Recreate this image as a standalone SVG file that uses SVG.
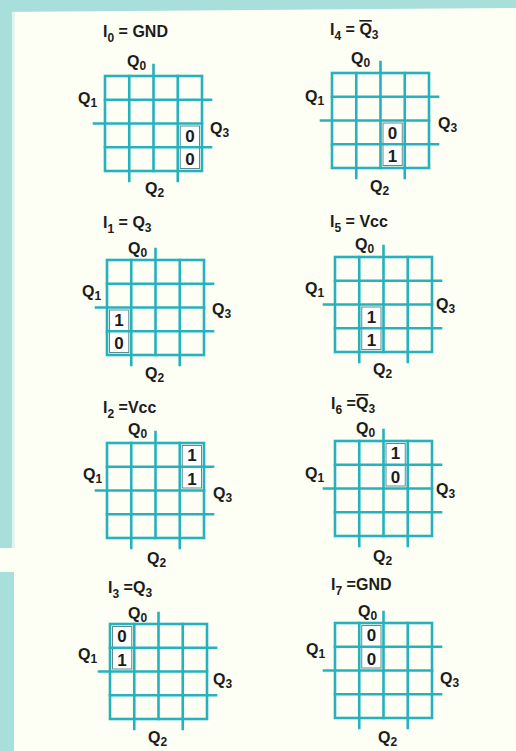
<svg xmlns="http://www.w3.org/2000/svg" xmlns:xlink="http://www.w3.org/1999/xlink" width="516" height="751" viewBox="0 0 516 751">
<style>
.g{fill:none;stroke:#26b2bc;stroke-width:2.6;stroke-linecap:square}
.bx{fill:#ffffff;stroke:#5e8a90;stroke-width:1}
text{font-family:"Liberation Sans","DejaVu Sans",Arial,sans-serif;font-weight:bold;fill:#1c1c1c}
.lb{font-size:16px}
.v{font-size:17px;text-anchor:middle}
.tt{font-size:16px}
.s{font-size:12px}
.ov{text-decoration:overline}
</style>
<defs>
<g id="grid">
<rect class="g" x="0" y="0" width="97" height="95"/>
<path class="g" d="M24.25 0V105 M48.5 -11V95 M72.75 0V105 M0 23.75H106 M-11 47.5H97 M0 71.25H106"/>
</g>
</defs>
<rect x="0" y="0" width="516" height="751" fill="#fdfef4"/>
<path d="M0 0H516V8L0 12Z" fill="#a9dfdb"/>
<rect x="0" y="0" width="12" height="548" fill="#a9dfdb"/>
<rect x="0" y="572" width="14" height="179" fill="#a9dfdb"/>
<rect x="12" y="12" width="3" height="536" fill="#e4f4ef"/>

<g id="map0" transform="translate(105,76)">
<rect class="bx" x="75.25" y="50" width="19.25" height="42.5"/>
<use xlink:href="#grid" href="#grid"/>
<text class="v" x="84.9" y="65.5">0</text>
<text class="v" x="84.9" y="89.2">0</text>
<text class="tt" x="-2" y="-39">I<tspan class="s" dy="5">0</tspan><tspan dy="-5"> = GND</tspan></text>
<text class="lb" x="22" y="-9">Q<tspan class="s" dy="3">0</tspan></text>
<text class="lb" x="-27" y="28">Q<tspan class="s" dy="3">1</tspan></text>
<text class="lb" x="105" y="58">Q<tspan class="s" dy="3">3</tspan></text>
<text class="lb" x="40" y="118">Q<tspan class="s" dy="3">2</tspan></text>
</g>

<g id="map4" transform="translate(332,73)">
<rect class="bx" x="51" y="50" width="19.25" height="42.5"/>
<use xlink:href="#grid" href="#grid"/>
<text class="v" x="60.6" y="65.5">0</text>
<text class="v" x="60.6" y="89.2">1</text>
<text class="tt" x="-2" y="-38">I<tspan class="s" dy="5">4</tspan><tspan dy="-5"> = </tspan><tspan class="ov">Q</tspan><tspan class="s" dy="4">3</tspan></text>
<text class="lb" x="19" y="-9">Q<tspan class="s" dy="3">0</tspan></text>
<text class="lb" x="-27" y="29">Q<tspan class="s" dy="3">1</tspan></text>
<text class="lb" x="106" y="56">Q<tspan class="s" dy="3">3</tspan></text>
<text class="lb" x="38" y="119">Q<tspan class="s" dy="3">2</tspan></text>
</g>

<g id="map1" transform="translate(107,260)">
<rect class="bx" x="2.5" y="50" width="19.25" height="42.5"/>
<use xlink:href="#grid" href="#grid"/>
<text class="v" x="12.1" y="65.5">1</text>
<text class="v" x="12.1" y="89.2">0</text>
<text class="tt" x="-4" y="-32">I<tspan class="s" dy="5">1</tspan><tspan dy="-5"> = Q</tspan><tspan class="s" dy="4">3</tspan></text>
<text class="lb" x="21" y="-6">Q<tspan class="s" dy="3">0</tspan></text>
<text class="lb" x="-25" y="37">Q<tspan class="s" dy="3">1</tspan></text>
<text class="lb" x="105" y="55">Q<tspan class="s" dy="3">3</tspan></text>
<text class="lb" x="38" y="119">Q<tspan class="s" dy="3">2</tspan></text>
</g>

<g id="map5" transform="translate(335,257)">
<rect class="bx" x="26.75" y="50" width="19.25" height="42.5"/>
<use xlink:href="#grid" href="#grid"/>
<text class="v" x="36.4" y="65.5">1</text>
<text class="v" x="36.4" y="89.2">1</text>
<text class="tt" x="-5" y="-30">I<tspan class="s" dy="5">5</tspan><tspan dy="-5"> = Vcc</tspan></text>
<text class="lb" x="20" y="-7">Q<tspan class="s" dy="3">0</tspan></text>
<text class="lb" x="-30" y="37">Q<tspan class="s" dy="3">1</tspan></text>
<text class="lb" x="101" y="53">Q<tspan class="s" dy="3">3</tspan></text>
<text class="lb" x="38" y="118">Q<tspan class="s" dy="3">2</tspan></text>
</g>

<g id="map2" transform="translate(107,443)">
<rect class="bx" x="75.25" y="2.5" width="19.25" height="42.5"/>
<use xlink:href="#grid" href="#grid"/>
<text class="v" x="84.9" y="18">1</text>
<text class="v" x="84.9" y="41.7">1</text>
<text class="tt" x="-4" y="-30">I<tspan class="s" dy="5">2</tspan><tspan dy="-5"> =Vcc</tspan></text>
<text class="lb" x="21" y="-8">Q<tspan class="s" dy="3">0</tspan></text>
<text class="lb" x="-24" y="37">Q<tspan class="s" dy="3">1</tspan></text>
<text class="lb" x="106" y="56">Q<tspan class="s" dy="3">3</tspan></text>
<text class="lb" x="40" y="121">Q<tspan class="s" dy="3">2</tspan></text>
</g>

<g id="map6" transform="translate(335,441)">
<rect class="bx" x="51" y="2.5" width="19.25" height="42.5"/>
<use xlink:href="#grid" href="#grid"/>
<text class="v" x="60.6" y="18">1</text>
<text class="v" x="60.6" y="41.7">0</text>
<text class="tt" x="-4" y="-32">I<tspan class="s" dy="5">6</tspan><tspan dy="-5"> =</tspan><tspan class="ov">Q</tspan><tspan class="s" dy="4">3</tspan></text>
<text class="lb" x="21" y="-7">Q<tspan class="s" dy="3">0</tspan></text>
<text class="lb" x="-30" y="38">Q<tspan class="s" dy="3">1</tspan></text>
<text class="lb" x="101" y="54">Q<tspan class="s" dy="3">3</tspan></text>
<text class="lb" x="38" y="121">Q<tspan class="s" dy="3">2</tspan></text>
</g>

<g id="map3" transform="translate(110,624)">
<rect class="bx" x="2.5" y="2.5" width="19.25" height="42.5"/>
<use xlink:href="#grid" href="#grid"/>
<text class="v" x="12.1" y="18">0</text>
<text class="v" x="12.1" y="41.7">1</text>
<text class="tt" x="-2" y="-31">I<tspan class="s" dy="5">3</tspan><tspan dy="-5"> =Q</tspan><tspan class="s" dy="4">3</tspan></text>
<text class="lb" x="18" y="-5">Q<tspan class="s" dy="3">0</tspan></text>
<text class="lb" x="-32" y="36">Q<tspan class="s" dy="3">1</tspan></text>
<text class="lb" x="103" y="61">Q<tspan class="s" dy="3">3</tspan></text>
<text class="lb" x="38" y="119">Q<tspan class="s" dy="3">2</tspan></text>
</g>

<g id="map7" transform="translate(335,623)">
<rect class="bx" x="26.75" y="2.5" width="19.25" height="42.5"/>
<use xlink:href="#grid" href="#grid"/>
<text class="v" x="36.4" y="18">0</text>
<text class="v" x="36.4" y="41.7">0</text>
<text class="tt" x="-4" y="-33">I<tspan class="s" dy="5">7</tspan><tspan dy="-5"> =GND</tspan></text>
<text class="lb" x="23" y="-6">Q<tspan class="s" dy="3">0</tspan></text>
<text class="lb" x="-29" y="32">Q<tspan class="s" dy="3">1</tspan></text>
<text class="lb" x="105" y="61">Q<tspan class="s" dy="3">3</tspan></text>
<text class="lb" x="43" y="120">Q<tspan class="s" dy="3">2</tspan></text>
</g>
</svg>
